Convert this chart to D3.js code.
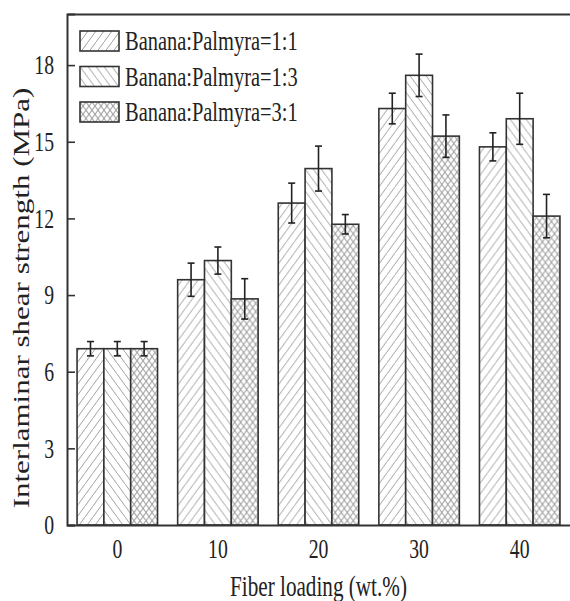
<!DOCTYPE html>
<html>
<head>
<meta charset="utf-8">
<script src="https://cdn.jsdelivr.net/npm/d3@7"></script>
<style>
  body { margin: 0; background: #fff; }
  text { font-family: "Liberation Serif", "Times New Roman", serif; fill: #222; }
</style>
</head>
<body>
<svg id="chart"></svg>
<script>
const WIDTH = 570;
const HEIGHT = 601;
const SQUASH = 0.73; // the source picture is squeezed horizontally

const loadings = ["0", "10", "20", "30", "40"];
const seriesNames = ["Banana:Palmyra=1:1", "Banana:Palmyra=1:3", "Banana:Palmyra=3:1"];
const ratio11 = [6.9, 9.6, 12.6, 16.3, 14.8];
const ratio13 = [6.9, 10.35, 13.95, 17.6, 15.9];
const ratio31 = [6.9, 8.85, 11.77, 15.22, 12.09];
const err11 = [0.28, 0.65, 0.78, 0.6, 0.55];
const err13 = [0.28, 0.53, 0.88, 0.83, 1.0];
const err31 = [0.28, 0.79, 0.38, 0.83, 0.85];
const yTicks = [0, 3, 6, 9, 12, 15, 18];

const margin = { top: 14, right: 0, bottom: 76, left: 67 };

const svg = d3.select("#chart").attr("width", WIDTH).attr("height", HEIGHT);

// hatch patterns
const defs = svg.append("defs");
const hatch = [
  { id: "h11", w: 8, h: 11, lines: [[0, 1, 1, 0]] },
  { id: "h13", w: 8, h: 11, lines: [[0, 0, 1, 1]] },
  { id: "h31", w: 6, h: 8.2, lines: [[0, 1, 1, 0], [0, 0, 1, 1]] },
];
hatch.forEach((p) => {
  const pat = defs.append("pattern")
    .attr("id", p.id)
    .attr("patternUnits", "userSpaceOnUse")
    .attr("width", p.w)
    .attr("height", p.h);
  pat.append("rect").attr("width", p.w).attr("height", p.h).attr("fill", "#fff");
  p.lines.forEach(([x1, y1, x2, y2]) => {
    pat.append("line")
      .attr("x1", x1 * p.w).attr("y1", y1 * p.h)
      .attr("x2", x2 * p.w).attr("y2", y2 * p.h)
      .attr("stroke", "#a0a0a0")
      .attr("stroke-width", 1);
  });
});

const data = loadings.map((l, i) => ({
  loading: l,
  values: [
    { key: 0, v: ratio11[i], e: err11[i] },
    { key: 1, v: ratio13[i], e: err13[i] },
    { key: 2, v: ratio31[i], e: err31[i] },
  ],
}));

const xScale = d3.scaleBand()
  .domain(loadings)
  .range([margin.left, WIDTH - margin.right])
  .paddingInner(0.2)
  .paddingOuter(0.1);

const xInner = d3.scaleBand()
  .domain([0, 1, 2])
  .range([0, xScale.bandwidth()]);

const yScale = d3.scaleLinear()
  .domain([0, 20])
  .range([HEIGHT - margin.bottom, margin.top]);

// bars
const groups = svg.append("g")
  .selectAll("g")
  .data(data)
  .join("g")
  .attr("transform", (d) => `translate(${xScale(d.loading)},0)`);

groups.selectAll("rect")
  .data((d) => d.values)
  .join("rect")
  .attr("x", (d) => xInner(d.key))
  .attr("y", (d) => yScale(d.v))
  .attr("width", xInner.bandwidth())
  .attr("height", (d) => yScale(0) - yScale(d.v))
  .attr("fill", (d) => `url(#${hatch[d.key].id})`)
  .attr("stroke", "#333")
  .attr("stroke-width", 1.6);

// error bars
const eb = groups.selectAll("g.err")
  .data((d) => d.values)
  .join("g")
  .attr("class", "err")
  .attr("transform", (d) => `translate(${xInner(d.key) + xInner.bandwidth() / 2},0)`)
  .attr("stroke", "#222")
  .attr("stroke-width", 1.6);
eb.append("line")
  .attr("y1", (d) => yScale(d.v - d.e))
  .attr("y2", (d) => yScale(d.v + d.e));
eb.append("line")
  .attr("x1", -3.5).attr("x2", 3.5)
  .attr("y1", (d) => yScale(d.v + d.e))
  .attr("y2", (d) => yScale(d.v + d.e));
eb.append("line")
  .attr("x1", -3.5).attr("x2", 3.5)
  .attr("y1", (d) => yScale(d.v - d.e))
  .attr("y2", (d) => yScale(d.v - d.e));

// axes
const xAxis = svg.append("g")
  .attr("transform", `translate(0,${HEIGHT - margin.bottom})`)
  .call(d3.axisBottom(xScale).tickSize(0).tickPadding(14));

const yAxis = svg.append("g")
  .attr("transform", `translate(${margin.left},0)`)
  .call(d3.axisLeft(yScale).tickValues(yTicks).tickSize(-8).tickPadding(14));

const topAxis = svg.append("g")
  .attr("transform", `translate(0,${margin.top})`)
  .call(d3.axisTop(xScale).tickSize(0).tickFormat(""));

[xAxis, yAxis, topAxis].forEach((ax) => {
  ax.select(".domain").attr("stroke", "#333").attr("stroke-width", 2);
  ax.selectAll(".tick line").attr("stroke", "#333").attr("stroke-width", 1.6);
  ax.selectAll("text")
    .attr("font-family", "Liberation Serif, Times New Roman, serif")
    .attr("font-size", 27)
    .attr("fill", "#222");
});
xAxis.selectAll(".tick text").attr("transform", `scale(${SQUASH},1)`);
yAxis.selectAll(".tick text")
  .attr("x", -13 / SQUASH)
  .attr("transform", `scale(${SQUASH},1)`);

// axis titles
svg.append("text")
  .attr("transform", `translate(${(margin.left + WIDTH - margin.right) / 2},596) scale(${SQUASH},1)`)
  .attr("text-anchor", "middle")
  .attr("font-size", 29)
  .text("Fiber loading (wt.%)");

svg.append("text")
  .attr("transform", `translate(29,298) scale(${SQUASH},1) rotate(-90)`)
  .attr("text-anchor", "middle")
  .attr("font-size", 31)
  .text("Interlaminar shear strength (MPa)");

// legend
const legend = svg.append("g")
  .selectAll("g")
  .data(seriesNames)
  .join("g")
  .attr("transform", (d, i) => `translate(80,${31 + i * 35.5})`);

legend.append("rect")
  .attr("width", 39)
  .attr("height", 20)
  .attr("fill", (d, i) => `url(#${hatch[i].id})`)
  .attr("stroke", "#333")
  .attr("stroke-width", 1.6);

legend.append("text")
  .attr("transform", `translate(45,19) scale(${SQUASH},1)`)
  .attr("font-size", 28)
  .text((d) => d);
</script>
</body>
</html>
